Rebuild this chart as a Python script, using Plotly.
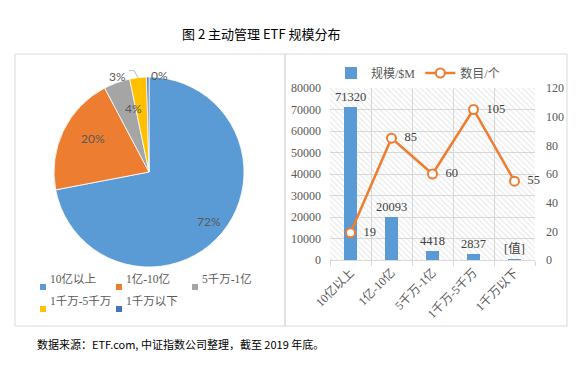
import math
import plotly.graph_objects as go

# ---------------- data ----------------
categories = ["10亿以上", "1亿-10亿", "5千万-1亿", "1千万-5千万", "1千万以下"]
size_values = [71320, 20093, 4418, 2837, 400]          # 规模/$M
size_labels = ["71320", "20093", "4418", "2837", "[值]"]
count_values = [19, 85, 60, 105, 55]                   # 数目/个
pie_colors = ["#5B9BD5", "#ED7D31", "#A5A5A5", "#FFC000", "#4472C4"]
y1_ticks = [0, 10000, 20000, 30000, 40000, 50000, 60000, 70000, 80000]
y2_ticks = [0, 20, 40, 60, 80, 100, 120]

W, H = 585, 368
def px(x):
    return x / W
def py(y):
    return 1 - y / H

SERIF = "Liberation Serif, Noto Sans CJK SC"
SANS = "Lato, Noto Sans CJK SC"
CJK = "Noto Sans CJK SC"
GRAY = "#595959"
BORDER = "#D9D9D9"

fig = go.Figure()

# ---------------- pie ----------------
PCX, PCY, PR = 149, 172, 95
fig.add_trace(go.Pie(
    labels=categories, values=size_values, sort=False, direction="clockwise",
    rotation=0, marker=dict(colors=pie_colors, line=dict(color="white", width=0.8)),
    textinfo="none", hoverinfo="label+percent", showlegend=False,
    domain=dict(x=[px(PCX - PR), px(PCX + PR)], y=[py(PCY + PR), py(PCY - PR)]),
))

annotations = []
shapes = []
total = sum(size_values)
cum = 0
for i, v in enumerate(size_values):
    frac = v / total
    mid = cum + frac / 2
    cum += frac
    pct = f"{round(frac * 100)}%"
    ang = 2 * math.pi * mid
    if i < 3:
        r = 0.82 * PR
        x = PCX + r * math.sin(ang)
        y = PCY - r * math.cos(ang)
        annotations.append(dict(x=px(x), y=py(y), xref="paper", yref="paper",
                                text=pct, showarrow=False,
                                font=dict(family=SANS, size=12, color=GRAY)))
    elif i == 3:
        ex = PCX + PR * math.sin(ang)
        ey = PCY - PR * math.cos(ang)
        shapes.append(dict(type="path", xref="paper", yref="paper",
                           path=f"M {px(ex)} {py(ey)} L {px(ex-4)} {py(ey-7)} L {px(ex-9)} {py(ey-7)}",
                           line=dict(color="#A6A6A6", width=0.8)))
        annotations.append(dict(x=px(ex - 10), y=py(ey - 11), xref="paper", yref="paper",
                                text=pct, showarrow=False, xanchor="right",
                                font=dict(family=SANS, size=12, color=GRAY)))
    else:
        ex = PCX + PR * math.sin(ang)
        ey = PCY - PR * math.cos(ang)
        annotations.append(dict(x=px(ex + 1), y=py(ey - 11), xref="paper", yref="paper",
                                text=pct, showarrow=False,
                                font=dict(family=SANS, size=12, color=GRAY)))

# manual pie legend
leg_pos = [(40, 287), (116, 287), (192, 287), (40, 309), (116, 309)]
for (lx, ly), cat, col in zip(leg_pos, categories, pie_colors):
    shapes.append(dict(type="rect", xref="paper", yref="paper",
                       x0=px(lx), x1=px(lx + 6), y0=py(ly + 3), y1=py(ly - 3),
                       fillcolor=col, line=dict(width=0)))
    annotations.append(dict(x=px(lx + 8), y=py(ly), xref="paper", yref="paper",
                            text=cat, showarrow=False, xanchor="left",
                            font=dict(family=SERIF, size=11.5, color=GRAY)))

# ---------------- combo chart ----------------
PL, PRt, PT, PB = 330, 535, 88, 260
# hatched plot background
fig.add_trace(go.Bar(
    x=categories, y=[y1_ticks[-1]] * len(categories), width=1,
    marker=dict(color="rgba(0,0,0,0)", line=dict(width=0),
                pattern=dict(shape="\\", fgcolor="#CCCCCC", bgcolor="rgba(0,0,0,0)",
                             size=4, solidity=0.25)),
    showlegend=False, hoverinfo="skip", xaxis="x", yaxis="y",
))
fig.add_trace(go.Bar(
    x=categories, y=size_values, width=0.3, name="规模/$M",
    marker=dict(color="#5B9BD5", line=dict(width=0)),
    text=size_labels, textposition="outside", cliponaxis=False, constraintext="none",
    textfont=dict(family=SERIF, size=12.5, color="#404040"),
    legend="legend2", xaxis="x", yaxis="y",
))
fig.add_trace(go.Scatter(
    x=categories, y=count_values, name="数目/个", mode="lines+markers+text",
    line=dict(color="#ED7D31", width=2.5),
    marker=dict(symbol="circle", size=9, color="white",
                line=dict(color="#ED7D31", width=2)),
    text=["\u00a0\u00a0" + str(v) for v in count_values], textposition="middle right",
    textfont=dict(family=SERIF, size=12.5, color="#404040"), cliponaxis=False,
    legend="legend2", xaxis="x", yaxis="y2",
))

# panel borders
shapes.append(dict(type="rect", xref="paper", yref="paper",
                   x0=px(15), x1=px(285), y0=py(326), y1=py(54),
                   line=dict(color=BORDER, width=1)))
shapes.append(dict(type="rect", xref="paper", yref="paper",
                   x0=px(285), x1=px(567), y0=py(326), y1=py(54),
                   line=dict(color=BORDER, width=1)))

# title and source
annotations.append(dict(x=px(261), y=py(22), xref="paper", yref="paper",
                        text="图 2 主动管理 ETF 规模分布", showarrow=False,
                        font=dict(family=CJK, size=13, color="black")))
annotations.append(dict(x=px(35), y=py(354), xref="paper", yref="paper", xanchor="left",
                        text="数据来源：ETF.com, 中证指数公司整理，截至 2019 年底。", showarrow=False,
                        font=dict(family=CJK, size=11, color="black")))

fig.update_layout(
    width=W, height=H, margin=dict(l=0, r=0, t=0, b=0, pad=0, autoexpand=False),
    paper_bgcolor="white", plot_bgcolor="white",
    barmode="overlay", bargap=0,
    showlegend=True,
    xaxis=dict(domain=[px(PL), px(PRt)], type="category", tickson="boundaries",
               showgrid=True, gridcolor=BORDER, gridwidth=1,
               ticks="outside", ticklen=5, tickcolor=BORDER,
               showline=True, linecolor=BORDER, tickangle=-45,
               tickfont=dict(family=SERIF, size=12, color=GRAY), anchor="y"),
    yaxis=dict(domain=[py(PB), py(PT)], range=[y1_ticks[0], y1_ticks[-1]],
               tickvals=y1_ticks, tickformat="d", showgrid=True, gridcolor=BORDER,
               zeroline=False, showline=False, ticklabelstandoff=8,
               tickfont=dict(family=SERIF, size=12, color=GRAY), anchor="x"),
    yaxis2=dict(overlaying="y", side="right", range=[y2_ticks[0], y2_ticks[-1]],
                tickvals=y2_ticks, showgrid=False, zeroline=False, showline=False,
                ticklabelstandoff=10, anchor="x",
                tickfont=dict(family=SERIF, size=12, color=GRAY)),
    legend2=dict(orientation="h", x=px(418), xanchor="center", y=py(73), yanchor="middle",
                 font=dict(family=SERIF, size=12, color=GRAY), bgcolor="rgba(0,0,0,0)",
                 itemwidth=30),
    annotations=annotations, shapes=shapes,
)

fig.write_html("out.html", config={"displayModeBar": False},
               post_script="document.body.style.margin='0';")
